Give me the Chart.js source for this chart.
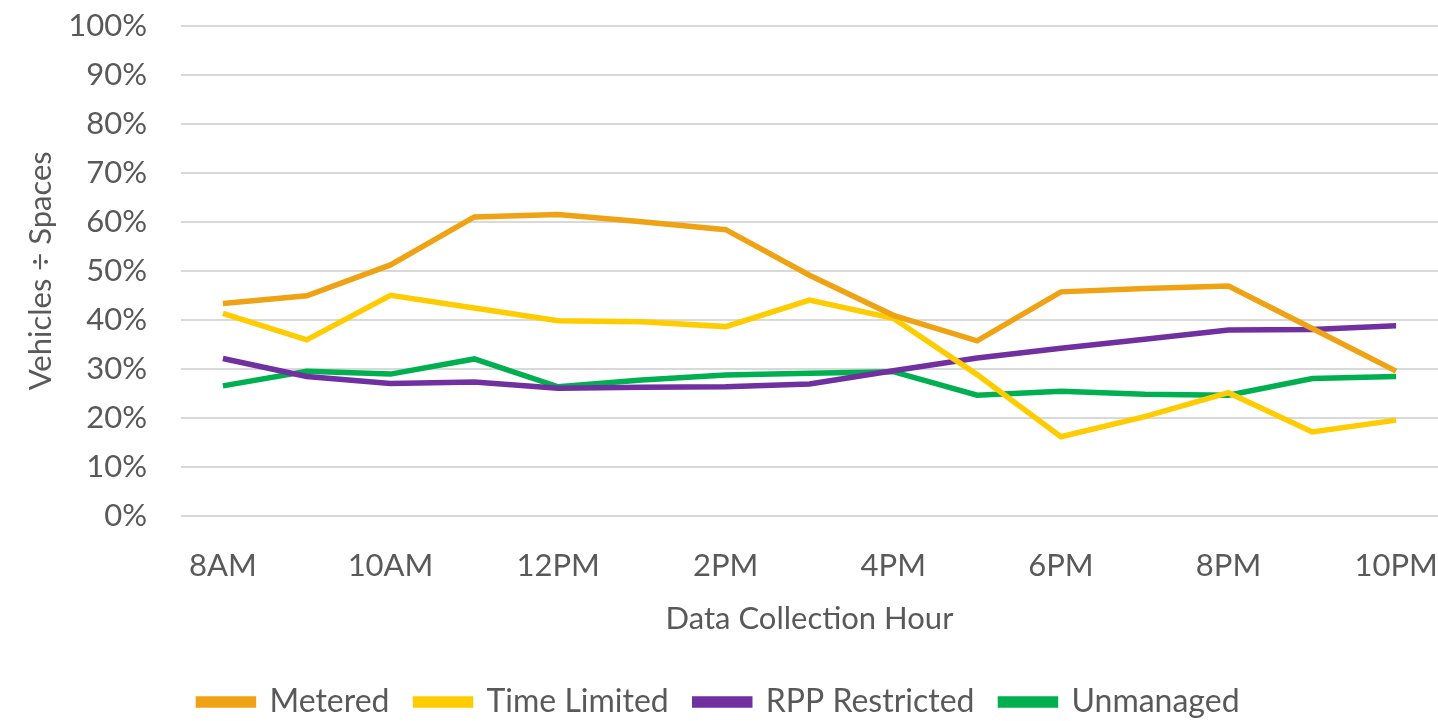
<!DOCTYPE html>
<html>
<head>
<meta charset="utf-8">
<script src="https://cdn.jsdelivr.net/npm/chart.js@4"></script>
<style>
  html, body { margin: 0; padding: 0; background: #fff; }
</style>
</head>
<body>
<canvas id="occChart" width="1438" height="721"></canvas>
<script>
var hours = ["8AM", "9AM", "10AM", "11AM", "12PM", "1PM", "2PM", "3PM", "4PM", "5PM", "6PM", "7PM", "8PM", "9PM", "10PM"];
var metered = [43.3, 44.9, 51.2, 61.0, 61.5, 60.0, 58.4, 49.1, 40.9, 35.7, 45.7, 46.4, 46.9, 38.2, 29.5];
var timeLimited = [41.3, 35.9, 45.0, 42.4, 39.8, 39.6, 38.6, 44.0, 40.3, 28.8, 16.1, 20.2, 25.1, 17.1, 19.5];
var rppRestricted = [32.1, 28.4, 27.0, 27.3, 26.0, 26.2, 26.3, 26.9, 29.6, 32.2, 34.2, 36.0, 37.9, 38.0, 38.8];
var unmanaged = [26.5, 29.5, 28.9, 32.0, 26.3, 27.7, 28.7, 29.1, 29.4, 24.6, 25.4, 24.8, 24.6, 28.0, 28.4];

var textColor = '#595959';
var fontFamily = 'Lato, "Open Sans", sans-serif';

function series(label, data, color) {
    return {
        label: label,
        data: data,
        borderColor: color,
        backgroundColor: color,
        borderWidth: 5.5,
        pointRadius: 0,
        tension: 0
    };
}

new Chart(document.getElementById('occChart'), {
    type: 'line',
    data: {
        labels: hours,
        datasets: [
            series('Metered', metered, '#EFA314'),
            series('Time Limited', timeLimited, '#FFCC00'),
            series('RPP Restricted', rppRestricted, '#7030A0'),
            series('Unmanaged', unmanaged, '#00B050')
        ]
    },
    options: {
        responsive: false,
        animation: false,
        layout: { padding: { top: 26, right: 0, bottom: -7, left: 0 } },
        plugins: {
            tooltip: { enabled: false },
            legend: {
                position: 'bottom',
                labels: {
                    color: textColor,
                    font: { family: fontFamily, size: 32 },
                    boxWidth: 55,
                    boxHeight: 6,
                    padding: 26
                }
            }
        },
        scales: {
            x: {
                offset: true,
                grid: { display: false },
                border: { display: false },
                ticks: {
                    color: textColor,
                    font: { family: fontFamily, size: 31 },
                    autoSkip: false,
                    maxRotation: 0,
                    padding: 24,
                    callback: function (val, i) { return i % 2 === 0 ? this.getLabelForValue(val) : ''; }
                },
                title: {
                    display: true,
                    text: 'Data Collection Hour',
                    color: textColor,
                    font: { family: fontFamily, size: 31 },
                    padding: { top: -8, bottom: 22 }
                },
                afterFit: function (scale) { scale.paddingLeft = 0; scale.paddingRight = 0; }
            },
            y: {
                min: 0,
                max: 100,
                grid: { color: '#D9D9D9', lineWidth: 2, drawTicks: false },
                border: { display: false },
                ticks: {
                    stepSize: 10,
                    color: textColor,
                    font: { family: fontFamily, size: 31 },
                    padding: 34,
                    callback: function (v) { return v + '%'; }
                },
                title: {
                    display: true,
                    text: 'Vehicles ÷ Spaces',
                    color: textColor,
                    font: { family: fontFamily, size: 31 },
                    padding: { top: 22, bottom: 0 }
                },
                afterFit: function (scale) {
                    scale.width = 181;
                    scale.paddingTop = 0;
                    scale.paddingBottom = 0;
                }
            }
        }
    }
});
</script>
</body>
</html>
